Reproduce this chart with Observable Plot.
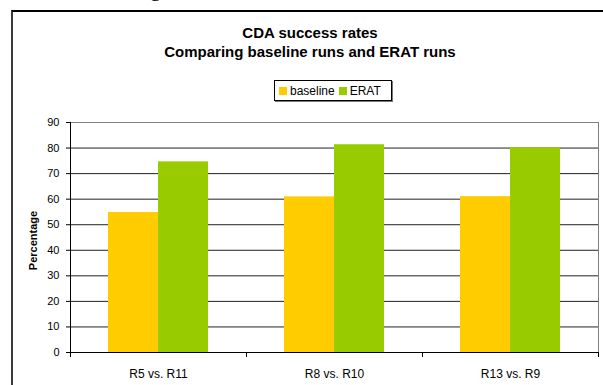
<!DOCTYPE html>
<html>
<head>
<meta charset="utf-8">
<script src="https://cdn.jsdelivr.net/npm/d3@7"></script>
<script src="https://cdn.jsdelivr.net/npm/@observablehq/plot@0.6"></script>
<style>
  html, body { margin: 0; padding: 0; background: #fff; }
  body { width: 603px; height: 385px; overflow: hidden; position: relative; font-family: "Liberation Sans", Arial, sans-serif; }
  #frame { position: absolute; left: 11px; top: 10px; width: 700px; height: 500px; border-top: 2px solid #000; border-left: 2px solid #3a3a3a; box-sizing: border-box; }
  #doc { position: absolute; left: 150px; top: -22px; font-family: "Liberation Serif", serif; font-size: 22px; line-height: 22px; color: #000; }
  #title { position: absolute; left: 10px; width: 600px; top: 23px; text-align: center; font-weight: bold; font-size: 15px; line-height: 19px; color: #000; }
  #legend { position: absolute; left: 274px; top: 80px; width: 116px; height: 19px; border: 1px solid #000; box-shadow: 1px 1px 0 #777; display: flex; align-items: center; font-size: 12px; color: #000; background: #fff; }
  #legend .item { display: flex; align-items: center; margin-left: 4px; }
  #legend .sw { width: 8px; height: 8px; margin-right: 3px; }
  #chart { position: absolute; left: 0; top: 100px; }
</style>
</head>
<body>
<div id="doc">g</div>
<div id="frame"></div>
<div id="title">CDA success rates<br>Comparing baseline runs and ERAT runs</div>
<div id="legend"></div>
<div id="chart"></div>
<script>
const categories = ["R5 vs. R11", "R8 vs. R10", "R13 vs. R9"];
const series = ["baseline", "ERAT"];
const baselineValues = [54.8, 60.9, 61.0];
const eratValues = [74.6, 81.3, 80.1];
const yTicks = [0, 10, 20, 30, 40, 50, 60, 70, 80, 90];
const seriesColors = ["#FFCC00", "#99CC00"];
const yLabel = "Percentage";

const data = categories.flatMap((c, i) => [
  {category: c, series: series[0], value: baselineValues[i]},
  {category: c, series: series[1], value: eratValues[i]}
]);

// legend
const legend = document.getElementById("legend");
series.forEach((s, i) => {
  const item = document.createElement("div");
  item.className = "item";
  const sw = document.createElement("div");
  sw.className = "sw";
  sw.style.background = seriesColors[i];
  const t = document.createElement("span");
  t.textContent = s;
  item.appendChild(sw);
  item.appendChild(t);
  legend.appendChild(item);
});

const chart = Plot.plot({
  width: 603,
  height: 285,
  marginLeft: 70,
  marginRight: 5,
  marginTop: 22,
  marginBottom: 33,
  style: {fontFamily: "Liberation Sans, Arial, sans-serif", fontSize: "11px", color: "#000", background: "transparent"},
  fx: {domain: categories, padding: 0, label: null},
  x: {domain: series, paddingInner: 0, paddingOuter: 0.76, axis: null},
  y: {domain: [0, 90], label: null},
  color: {domain: series, range: seriesColors},
  marks: [
    Plot.ruleY(yTicks.filter(t => t > 0 && t < 90), {y: d => d, stroke: "#222", strokeWidth: 1}),
    Plot.barY(data, {fx: "category", x: "series", y: "value", fill: "series"}),
    Plot.ruleY([yTicks[yTicks.length - 1]], {y: d => d, stroke: "#808080"}),
    Plot.ruleY([0], {y: d => d, stroke: "#000"}),
    Plot.frame({anchor: "right", stroke: "#808080", facetAnchor: "right"}),
    Plot.frame({anchor: "left", stroke: "#000", insetTop: 230, insetBottom: -4}),
    Plot.frame({anchor: "right", stroke: "#000", insetTop: 230, insetBottom: -4, facetAnchor: "right"}),
    Plot.frame({anchor: "left", stroke: "#000", insetBottom: -4, facetAnchor: "left"}),
    Plot.axisY({ticks: yTicks, tickSize: 4, tickPadding: 7, tickFormat: d => String(d), label: null, fontSize: 11}),
    Plot.axisFx({anchor: "bottom", tickSize: 0, tickPadding: 17, label: null, fontSize: 12}),
    Plot.text([yLabel], {text: d => d, frameAnchor: "left", textAnchor: "middle", rotate: -90, dx: -37, dy: 3, fontWeight: "bold", fontSize: 11, facetAnchor: "left"})
  ]
});
document.getElementById("chart").appendChild(chart);
</script>
</body>
</html>
